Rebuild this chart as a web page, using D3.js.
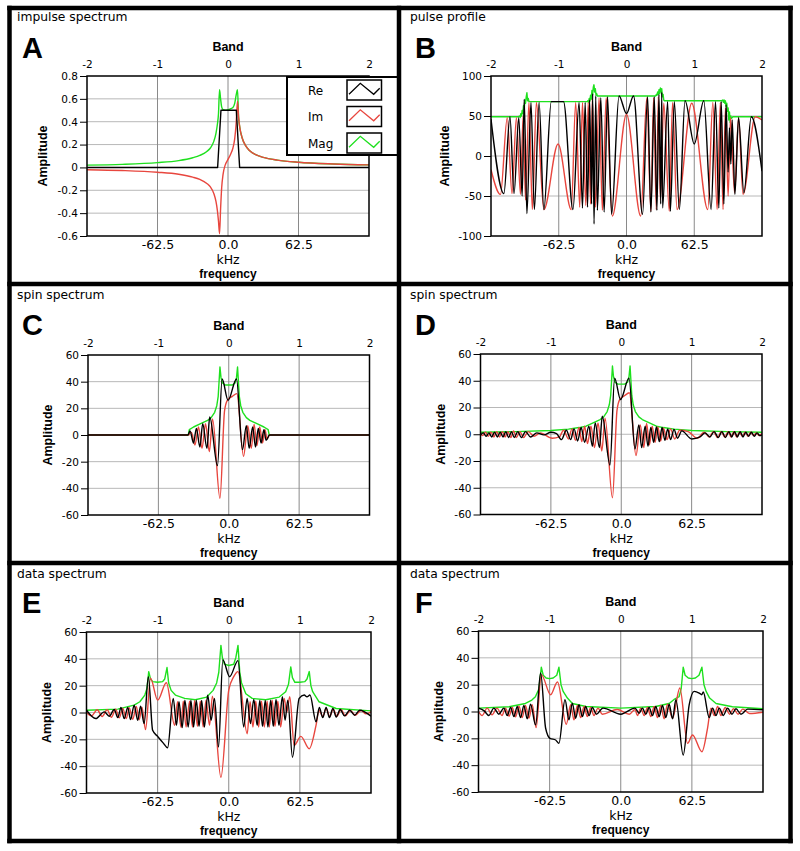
<!DOCTYPE html>
<html>
<head>
<meta charset="utf-8">
<script src="https://cdn.jsdelivr.net/npm/d3@7"></script>
<style>
  body { margin: 0; background: #fff; }
  svg { display: block; }
  .title { font: 12.3px 'DejaVu Sans', sans-serif; }
  .letter { font: bold 29px 'Liberation Sans', Arial, sans-serif; }
  .axis-title { font: bold 12.5px 'Liberation Sans', Arial, sans-serif; }
  .freq { font: bold 12px 'Liberation Sans', Arial, sans-serif; }
  .unit { font: 12.5px 'DejaVu Sans', sans-serif; }
  .axis-top text, .axis-y text { font: 10.5px 'DejaVu Sans', sans-serif; fill: #000; }
  .axis-bottom text { font: 12.5px 'DejaVu Sans', sans-serif; fill: #000; }
  .axis-y line { stroke: #000; }
  .grid-x { stroke: #8a8a8a; stroke-width: 1; }
  .grid-y { stroke: #b8b8b8; stroke-width: 1; }
  .frame { fill: none; stroke: #000; stroke-width: 1.5; }
  .series { fill: none; stroke-width: 1.4; stroke-linejoin: round; }
  .legend-label { font: 12px 'DejaVu Sans', sans-serif; }
</style>
</head>
<body>
<svg id="chart" width="800" height="851"></svg>
<script>
// ---- shared axis values ----
const BAND_TICKS = [-2, -1, 0, 1, 2]
const KHZ_TICKS = [-1, 0, 1]
const KHZ_LABELS = ['-62.5', '0.0', '62.5']
const SERIES_NAMES = ['Re', 'Im', 'Mag']
const SERIES_COLORS = ['#000000', '#e8463e', '#1ee01e']

const A_Y_TICKS = [-0.6, -0.4, -0.2, 0, 0.2, 0.4, 0.6, 0.8]
const B_Y_TICKS = [-100, -50, 0, 50, 100]
const SPIN_Y_TICKS = [-60, -40, -20, 0, 20, 40, 60]

// ---- A: impulse spectrum ----
const A_RE = [[-2, 0], [-0.147, 0], [-0.1, 0.5], [0.118, 0.5], [0.165, 0], [2, 0]]
const A_IM = [[-2, -0.02], [-1.5, -0.027], [-1, -0.042], [-0.7, -0.06], [-0.5, -0.085], [-0.4, -0.105],
  [-0.3, -0.14], [-0.25, -0.17], [-0.2, -0.23], [-0.17, -0.3], [-0.15, -0.38], [-0.135, -0.47],
  [-0.12, -0.58], [-0.105, -0.36], [-0.09, -0.18], [-0.07, -0.06], [-0.04, 0.02], [0, 0.07],
  [0.04, 0.12], [0.07, 0.17], [0.095, 0.25], [0.115, 0.38], [0.135, 0.58], [0.15, 0.44],
  [0.17, 0.34], [0.2, 0.26], [0.25, 0.19], [0.3, 0.15], [0.4, 0.11], [0.5, 0.088], [0.7, 0.064],
  [1, 0.045], [1.5, 0.03], [2, 0.022]]
const A_MAG = [[-2, 0.02], [-1.5, 0.027], [-1, 0.042], [-0.7, 0.06], [-0.5, 0.085], [-0.4, 0.105],
  [-0.3, 0.14], [-0.25, 0.17], [-0.2, 0.23], [-0.17, 0.3], [-0.15, 0.38], [-0.135, 0.47],
  [-0.12, 0.68], [-0.105, 0.6], [-0.09, 0.53], [-0.07, 0.505], [-0.04, 0.5], [0, 0.505],
  [0.04, 0.515], [0.07, 0.525], [0.095, 0.56], [0.115, 0.63], [0.135, 0.68], [0.15, 0.44],
  [0.17, 0.34], [0.2, 0.26], [0.25, 0.19], [0.3, 0.15], [0.4, 0.11], [0.5, 0.088], [0.7, 0.064],
  [1, 0.045], [1.5, 0.03], [2, 0.022]]

// ---- B: pulse profile ----
const B_RE = [[-2, 46], [-1.81, -47], [-1.72, 49], [-1.66, -47], [-1.59, 48], [-1.54, -50], [-1.51, 71],
  [-1.47, -72], [-1.41, 67], [-1.36, -67], [-1.29, 67], [-1.22, -67], [-1.11, 68], [-0.93, 68],
  [-0.79, -67], [-0.7, 67], [-0.65, -65], [-0.61, 67], [-0.575, -64], [-0.545, 70], [-0.515, -60],
  [-0.5, 78], [-0.479, -85], [-0.454, 75], [-0.43, -68], [-0.38, 73], [-0.33, -70], [-0.28, 74],
  [-0.22, -73], [-0.11, 75], [0, 53], [0.104, 75], [0.237, -73], [0.311, 74], [0.36, -70],
  [0.41, 74], [0.449, -68], [0.479, 77], [0.505, -60], [0.52, 80], [0.533, -65], [0.607, 68],
  [0.647, -69], [0.706, 68], [0.78, -67], [0.864, 69], [1.0, 15], [1.141, 69], [1.249, -67],
  [1.314, 68], [1.363, -65], [1.398, 68], [1.437, -60], [1.47, 64], [1.5, -20], [1.52, 35],
  [1.54, -10], [1.56, 45], [1.6, -48], [1.654, 48], [1.733, -46], [1.842, 49], [2, -19]]
const B_IM = [[-2, -17], [-1.86, -48], [-1.76, 48], [-1.69, -47], [-1.625, 48], [-1.565, -48],
  [-1.526, 50], [-1.49, -55], [-1.44, 67], [-1.39, -67], [-1.33, 67], [-1.22, -67], [-1.01, 15],
  [-0.815, -67], [-0.75, 67], [-0.69, -64], [-0.65, 67], [-0.6, -62], [-0.565, 67], [-0.53, -60],
  [-0.505, 72], [-0.46, -64], [-0.405, 73], [-0.356, -68], [-0.3, 73], [-0.21, -75], [0, 52],
  [0.21, -75], [0.3, 73], [0.36, -69], [0.4, 73], [0.44, -67], [0.47, 74], [0.5, -55], [0.55, 66],
  [0.632, -69], [0.68, 67], [0.745, -67], [0.963, 66], [1.2, -67], [1.274, 67], [1.338, -67],
  [1.385, 67], [1.425, -67], [1.46, 60], [1.5, -50], [1.536, 48], [1.595, -46], [1.654, 48],
  [1.72, -48], [1.9, 49], [2, 45]]
const B_MAG = [[-2, 49], [-1.6, 49], [-1.58, 50], [-1.57, 48], [-1.56, 53], [-1.55, 50], [-1.54, 57],
  [-1.53, 53], [-1.52, 63], [-1.51, 58], [-1.5, 70], [-1.49, 66], [-1.48, 74], [-1.47, 79],
  [-1.46, 69], [-1.45, 72], [-1.44, 68], [-0.58, 68], [-0.57, 69], [-0.56, 67], [-0.55, 72],
  [-0.54, 69], [-0.53, 76], [-0.52, 71], [-0.51, 82], [-0.5, 77], [-0.49, 86], [-0.48, 89],
  [-0.47, 80], [-0.46, 84], [-0.45, 76], [-0.44, 78], [-0.43, 75], [0.43, 75], [0.44, 77],
  [0.45, 76], [0.46, 80], [0.47, 77], [0.48, 83], [0.49, 78], [0.5, 85], [0.51, 80], [0.52, 84],
  [0.53, 74], [0.54, 77], [0.55, 70], [0.56, 69], [1.4, 69], [1.42, 70], [1.43, 67], [1.44, 70],
  [1.45, 66], [1.46, 69], [1.47, 62], [1.48, 66], [1.49, 56], [1.5, 60], [1.51, 45], [1.52, 55],
  [1.53, 42], [1.54, 50], [1.55, 47], [1.57, 49], [2, 49]]

// ---- C / D: spin spectrum (shared centre) ----
const SPIN_RE_CORE = [[-0.41, -9], [-0.37, 8.5], [-0.31, -10], [-0.27, 13.5], [-0.16, -23], [-0.094, 42],
  [-0.01, 26], [0.11, 42], [0.195, -11], [0.25, 7], [0.29, -10], [0.34, 6], [0.38, -9], [0.42, 5]]
const SPIN_IM_CORE = [[-0.43, 6], [-0.38, -10], [-0.33, 8.5], [-0.276, -12.5], [-0.23, 12],
  [-0.125, -47.5], [-0.06, 18], [-0.02, 26], [0.05, 29], [0.115, 31], [0.21, -16], [0.27, 7],
  [0.32, -10], [0.36, 8], [0.4, -8], [0.44, 6]]
const SPIN_MAG_CORE = [[-0.5, 6], [-0.4, 8.5], [-0.3, 11], [-0.25, 13], [-0.2, 17], [-0.17, 22],
  [-0.15, 29], [-0.125, 51], [-0.11, 43], [-0.09, 39], [-0.05, 37.5], [0.05, 37.5], [0.09, 39],
  [0.11, 43], [0.125, 51], [0.15, 29], [0.17, 22], [0.2, 17], [0.25, 13], [0.3, 11], [0.4, 8.5],
  [0.5, 6]]

const C_RE_LEFT = [[-2, 0], [-0.58, 0], [-0.55, 3], [-0.5, -6], [-0.46, 5]]
const C_RE_RIGHT = [[0.46, -6], [0.5, 4], [0.53, -4], [0.58, 0], [2, 0]]
const C_IM_LEFT = [[-2, 0], [-0.58, 0], [-0.53, 2], [-0.48, -7.5]]
const C_IM_RIGHT = [[0.48, -6], [0.515, 4], [0.545, -3], [0.58, 0], [2, 0]]
const C_MAG_LEFT = [[-2, 0], [-0.575, 0], [-0.56, 4]]
const C_MAG_RIGHT = [[0.56, 4], [0.575, 0], [2, 0]]

const D_RE_LEFT = [[-2, -0.5], [-1.96, 1], [-1.92, -1.5], [-1.88, 1], [-1.84, -2], [-1.8, 1.5], [-1.76, -2],
  [-1.72, 1.5], [-1.68, -2], [-1.64, 2], [-1.6, -2.5], [-1.56, 2], [-1.52, -2.5], [-1.47, 2],
  [-1.42, -2.5], [-1.36, 2], [-1.29, -2], [-1.2, 1], [-1.1, -0.5], [-1.0, 1.5], [-0.92, 0.5],
  [-0.85, -4], [-0.78, 3], [-0.72, -4], [-0.67, 4], [-0.62, -5], [-0.57, 5], [-0.52, -6], [-0.46, 6]]
const D_RE_RIGHT = [[0.46, -6], [0.5, 5.5], [0.54, -5.5], [0.58, 5], [0.62, -4.5], [0.66, 4], [0.7, -4],
  [0.75, 3.5], [0.8, -3], [0.86, 2.5], [1.0, -3.5], [1.12, -2], [1.19, 1], [1.26, -2], [1.32, 2],
  [1.38, -2.5], [1.43, 2], [1.48, -2.5], [1.53, 2], [1.57, -2], [1.61, 2], [1.65, -2], [1.69, 2],
  [1.73, -2], [1.77, 1.5], [1.81, -1.5], [1.85, 1.5], [1.89, -1.5], [1.93, 1], [1.97, -1], [2, -0.5]]
const D_IM_LEFT = [[-2, 0.5], [-1.97, -1], [-1.93, 1.5], [-1.89, -1.5], [-1.85, 1.5], [-1.81, -2],
  [-1.77, 2], [-1.73, -2], [-1.69, 2], [-1.65, -2], [-1.61, 2], [-1.57, -2.5], [-1.53, 2.5],
  [-1.49, -2.5], [-1.44, 2], [-1.39, -2.5], [-1.32, 2], [-1.24, -1.5], [-1.15, 1], [-0.98, -3],
  [-0.88, -2], [-0.82, 3], [-0.75, -3.5], [-0.7, 4], [-0.65, -4.5], [-0.6, 5], [-0.56, -5.5],
  [-0.52, 6], [-0.48, -7]]
const D_IM_RIGHT = [[0.48, -6], [0.52, 5.5], [0.56, -5], [0.6, 4.5], [0.65, -4], [0.7, 4], [0.76, -3.5],
  [0.83, 3], [0.95, 2], [1.08, -3], [1.18, 1.5], [1.25, -2], [1.31, 2], [1.37, -2.5], [1.42, 2],
  [1.47, -2], [1.52, 2], [1.56, -2], [1.6, 2], [1.64, -2], [1.68, 1.5], [1.72, -1.5], [1.76, 1.5],
  [1.8, -1.5], [1.84, 1.5], [1.88, -1], [1.92, 1], [1.96, -1], [2, 0.5]]
const D_MAG_LEFT = [[-2, 1.5], [-1.5, 2], [-1.0, 2.8], [-0.75, 3.8], [-0.6, 5]]
const D_MAG_RIGHT = [[0.6, 5], [0.75, 3.8], [1.0, 2.8], [1.5, 2], [2, 1.5]]

// ---- E: data spectrum ----
const E_RE = [[-2, 1.7], [-1.87, -4.5], [-1.75, 0.5], [-1.68, -2.8], [-1.61, 2.2], [-1.56, -3.8],
  [-1.515, 3.7], [-1.47, -4.5], [-1.42, 3.7], [-1.38, -5.3], [-1.33, 5.5], [-1.28, -5.8], [-1.24, 4.7],
  [-1.19, -8.3], [-1.13, 26.7], [-1.07, -13.3], [-1.0, -17.8], [-0.92, -22.8], [-0.86, -26.3],
  [-0.78, 10.5], [-0.735, -9.6], [-0.7, 8], [-0.655, -11.3], [-0.617, 9.2], [-0.57, -10.8],
  [-0.532, 9], [-0.494, -10.8], [-0.456, 9.2], [-0.418, -10.3], [-0.381, 9], [-0.343, -10.8],
  [-0.296, 12.9], [-0.248, -5.8], [-0.201, 10.5], [-0.144, -25.8], [-0.083, 39.2], [0.012, 26.7],
  [0.13, 38.7], [0.21, -10.8], [0.258, 10.5], [0.305, -8.3], [0.352, 9.7], [0.4, -9.6], [0.437, 9],
  [0.475, -10.3], [0.513, 9], [0.551, -10.8], [0.589, 9.2], [0.626, -10.3], [0.664, 9.7],
  [0.706, -9.6], [0.754, 11.7], [0.792, -5.8], [0.83, 9.2], [0.896, -33.3], [0.99, 10.5],
  [1.061, 13], [1.1, 11.7], [1.142, 13], [1.227, -7], [1.274, 3.7], [1.322, -3.8], [1.369, 3.7],
  [1.416, -3.8], [1.464, 3], [1.511, -3.3], [1.567, 2.2], [1.628, -2.5], [1.7, 1.7], [1.77, -2],
  [1.841, 1.7], [2, -2.8]]
const E_IM = [[-2, 0], [-1.93, -2.5], [-1.85, 2], [-1.78, -3], [-1.71, 2], [-1.65, -3.5], [-1.59, 2.5],
  [-1.54, -4], [-1.49, 3], [-1.44, -4.5], [-1.4, 3.5], [-1.35, -5], [-1.3, 4.5], [-1.26, -5.5],
  [-1.22, 4], [-1.17, -12.8], [-1.1, 25.5], [-1.0, 9.2], [-0.877, 22.2], [-0.76, -9.6], [-0.72, 8],
  [-0.67, -11.3], [-0.64, 8.5], [-0.6, -10.8], [-0.55, 8.5], [-0.51, -10.8], [-0.48, 9],
  [-0.44, -10.3], [-0.4, 8.5], [-0.36, -10.8], [-0.32, 9.2], [-0.27, -9.6], [-0.23, 12.2],
  [-0.11, -48.3], [0, 16.7], [0.07, 26.7], [0.13, 30.5], [0.26, -15.8], [0.3, 8], [0.34, -10.8],
  [0.38, 8.5], [0.42, -10.8], [0.46, 8.5], [0.5, -10.8], [0.54, 8.5], [0.57, -10.8], [0.61, 9.2],
  [0.65, -10.3], [0.69, 8.5], [0.73, -10.8], [0.78, 10.5], [0.815, 0], [0.858, 11.7], [0.92, -24.5],
  [1.014, -17.8], [1.132, -27], [1.227, -9.6], [1.27, 1.7], [1.32, -2.8], [1.37, 3], [1.42, -3],
  [1.47, 2.5], [1.52, -2.8], [1.58, 2], [1.64, -2.5], [1.71, 1.5], [1.78, -2], [1.86, 1.5],
  [1.93, -1], [2, 0.5]]
const E_MAG = [[-2, 1.7], [-1.56, 2.5], [-1.33, 5.5], [-1.25, 8], [-1.18, 13], [-1.15, 18], [-1.125, 30.5],
  [-1.1, 25], [-1.07, 23], [-1.0, 22.5], [-0.93, 23], [-0.9, 25], [-0.868, 33.5], [-0.845, 22],
  [-0.81, 16.5], [-0.75, 13], [-0.62, 10.5], [-0.47, 9.5], [-0.31, 11.5], [-0.22, 16.5], [-0.17, 22],
  [-0.14, 30], [-0.11, 50], [-0.09, 41], [-0.06, 36], [0.0, 35], [0.07, 36], [0.1, 41], [0.13, 50],
  [0.155, 30], [0.18, 22], [0.24, 14], [0.33, 10.5], [0.52, 9.5], [0.71, 11.5], [0.8, 15.5],
  [0.84, 21], [0.872, 34], [0.895, 26], [0.93, 22.5], [1.0, 22.5], [1.07, 23], [1.1, 25],
  [1.132, 30.5], [1.155, 20], [1.18, 15.5], [1.27, 8], [1.51, 3], [2, 1.2]]

// ---- F: data spectrum ----
const F_RE = [[-2, 2.5], [-1.92, 0.5], [-1.854, -3], [-1.784, 2.5], [-1.714, -2], [-1.643, 2.5],
  [-1.596, -3], [-1.549, 3], [-1.502, -3.75], [-1.455, 3.75], [-1.408, -4.5], [-1.362, 4.5],
  [-1.315, -5.5], [-1.268, 5.5], [-1.197, -10], [-1.127, 28.75], [-1.056, -12.5], [-0.995, -20],
  [-0.915, -21.25], [-0.869, -23.75], [-0.784, 8.75], [-0.728, -6.25], [-0.681, 6.25], [-0.634, -5],
  [-0.587, 5], [-0.54, -3.75], [-0.493, 3.75], [-0.446, -3], [-0.399, 3], [-0.343, -2], [-0.25, 2.5],
  [0, -2], [0.2, 2.5], [0.258, -1.25], [0.305, 2.5], [0.352, -2], [0.399, 3], [0.446, -3],
  [0.493, 3.75], [0.54, -3.75], [0.587, 4.5], [0.634, -4.5], [0.681, 5.5], [0.728, -5.5],
  [0.775, 8.75], [0.878, -32.5], [0.962, 5], [1.033, 15], [1.103, 13.75], [1.14, 12.5], [1.16, 14.5],
  [1.244, -4.5], [1.291, 2.5], [1.338, -3], [1.385, 2.5], [1.441, -3], [1.502, 2.5], [1.563, -2],
  [1.62, 2], [1.69, -2], [1.784, 1.75], [2, 1.25]]
const F_IM = [[-2, 0], [-1.948, -3], [-1.878, 2.5], [-1.81, -2.5], [-1.74, 2.5], [-1.67, -3], [-1.62, 2.5],
  [-1.57, -3.5], [-1.525, 3], [-1.48, -4], [-1.43, 4], [-1.385, -4.5], [-1.34, 4.5], [-1.29, -5],
  [-1.245, 5], [-1.19, -12], [-1.117, 27.5], [-0.986, 12.5], [-0.89, 22], [-0.765, -9.5], [-0.704, 5],
  [-0.657, -6.25], [-0.61, 4.5], [-0.563, -4.5], [-0.516, 3.75], [-0.47, -3.75], [-0.423, 3],
  [-0.376, -3], [-0.32, 2.5], [-0.26, -2], [-0.05, 1.5], [0.12, -2], [0.2, 1.5], [0.235, -3],
  [0.282, 2.5], [0.329, -3], [0.376, 3], [0.423, -3.75], [0.47, 3.75], [0.516, -4.5], [0.563, 4.5],
  [0.61, -5.5], [0.657, 5.5], [0.728, -5], [0.831, 17.5], [0.939, -23.75], [1.009, -17.5],
  [1.141, -30], [1.22, -12.5], [1.268, 2.5], [1.315, -3], [1.362, 3.75], [1.408, -3], [1.47, 3],
  [1.53, -2], [1.585, 2], [1.65, -2], [1.715, 1.75], [1.81, -1.5], [2, -0.5]]
const F_MAG = [[-2, 2.5], [-1.57, 3.5], [-1.34, 6], [-1.25, 8.5], [-1.2, 11], [-1.15, 17], [-1.117, 33],
  [-1.09, 27], [-1.05, 25], [-1.0, 24.5], [-0.95, 25], [-0.9, 27], [-0.869, 33], [-0.84, 20],
  [-0.81, 15], [-0.75, 10], [-0.68, 6], [-0.49, 3.75], [0, 2.5], [0.49, 3.75], [0.68, 6], [0.75, 9],
  [0.82, 11], [0.85, 17], [0.878, 33], [0.905, 27], [0.95, 25], [1.0, 24.5], [1.05, 25], [1.1, 27],
  [1.141, 33], [1.17, 20], [1.2, 15], [1.25, 10], [1.34, 6], [1.57, 3.5], [2, 2]]

// ---- layout ----
const svg = d3.select('#chart')
const COL_LINES = [9.5, 399, 790.5]
const ROW_LINES = [8, 284, 563, 841]
const TITLE_X = [17, 410]
const TITLE_Y = [20.5, 298.5, 577.5]
const LETTER_X = [22, 415]
const LETTER_Y = [58, 335, 613]

const fmtA = (d) => (d === 0 ? '0' : d.toFixed(1))
const fmtInt = (d) => String(d)

const panels = [
  { key: 'A', title: 'impulse spectrum', col: 0, row: 0, box: { l: 87, r: 369, t: 76, b: 236 },
    yDomain: [-0.6, 0.8], yTicks: A_Y_TICKS, yFmt: fmtA, ampOff: 44, legend: true,
    series: [A_RE, A_IM, A_MAG], smooth: [false, true, true] },
  { key: 'B', title: 'pulse profile', col: 1, row: 0, box: { l: 491, r: 762, t: 76, b: 236 },
    yDomain: [-100, 100], yTicks: B_Y_TICKS, yFmt: fmtInt, ampOff: 46,
    series: [B_RE, B_IM, B_MAG], smooth: [true, true, false] },
  { key: 'C', title: 'spin spectrum', col: 0, row: 1, box: { l: 88, r: 369.5, t: 355, b: 515 },
    yDomain: [-60, 60], yTicks: SPIN_Y_TICKS, yFmt: fmtInt, ampOff: 40,
    series: [[...C_RE_LEFT, ...SPIN_RE_CORE, ...C_RE_RIGHT],
      [...C_IM_LEFT, ...SPIN_IM_CORE, ...C_IM_RIGHT],
      [...C_MAG_LEFT, ...SPIN_MAG_CORE, ...C_MAG_RIGHT]], smooth: [true, true, false] },
  { key: 'D', title: 'spin spectrum', col: 1, row: 1, box: { l: 480.5, r: 762, t: 354, b: 514.5 },
    yDomain: [-60, 60], yTicks: SPIN_Y_TICKS, yFmt: fmtInt, ampOff: 40,
    series: [[...D_RE_LEFT, ...SPIN_RE_CORE, ...D_RE_RIGHT],
      [...D_IM_LEFT, ...SPIN_IM_CORE, ...D_IM_RIGHT],
      [...D_MAG_LEFT, ...SPIN_MAG_CORE, ...D_MAG_RIGHT]], smooth: [true, true, false] },
  { key: 'E', title: 'data spectrum', col: 0, row: 2, box: { l: 86.5, r: 371, t: 632, b: 793 },
    yDomain: [-60, 60], yTicks: SPIN_Y_TICKS, yFmt: fmtInt, ampOff: 40,
    series: [E_RE, E_IM, E_MAG], smooth: [true, true, false] },
  { key: 'F', title: 'data spectrum', col: 1, row: 2, box: { l: 478.5, r: 763, t: 631, b: 792 },
    yDomain: [-60, 60], yTicks: SPIN_Y_TICKS, yFmt: fmtInt, ampOff: 40,
    series: [F_RE, F_IM, F_MAG], smooth: [true, true, false] },
]

function drawPanel(p) {
  const { l, r, t, b } = p.box
  const cx = (l + r) / 2
  const g = svg.append('g').attr('class', 'panel panel-' + p.key)

  const x = d3.scaleLinear().domain([-2, 2]).range([l, r])
  const y = d3.scaleLinear().domain(p.yDomain).range([b, t])

  g.append('text').attr('class', 'title').attr('x', TITLE_X[p.col]).attr('y', TITLE_Y[p.row]).text(p.title)
  g.append('text').attr('class', 'letter').attr('x', LETTER_X[p.col]).attr('y', LETTER_Y[p.row]).text(p.key)

  g.append('rect').attr('x', l).attr('y', t).attr('width', r - l).attr('height', b - t).attr('fill', '#fff')

  // grid
  const inner = p.yTicks.slice(1, -1)
  g.append('g').selectAll('line').data(inner).join('line')
    .attr('class', 'grid-y')
    .attr('x1', l).attr('x2', r)
    .attr('y1', (d) => y(d)).attr('y2', (d) => y(d))
  g.append('g').selectAll('line').data(KHZ_TICKS).join('line')
    .attr('class', 'grid-x')
    .attr('x1', (d) => x(d)).attr('x2', (d) => x(d))
    .attr('y1', t).attr('y2', b)

  // series
  const clipId = 'clip-' + p.key
  g.append('clipPath').attr('id', clipId)
    .append('rect').attr('x', l).attr('y', t).attr('width', r - l).attr('height', b - t)
  const lines = g.append('g').attr('clip-path', `url(#${clipId})`)
  const order = [2, 1, 0] // Mag under Im under Re
  order.forEach((i) => {
    const gen = d3.line()
      .x((d) => x(d[0]))
      .y((d) => y(d[1]))
      .curve(p.smooth[i] ? d3.curveMonotoneX : d3.curveLinear)
    lines.append('path')
      .datum(p.series[i])
      .attr('class', 'series')
      .attr('stroke', SERIES_COLORS[i])
      .attr('d', gen)
  })

  g.append('rect').attr('class', 'frame').attr('x', l).attr('y', t).attr('width', r - l).attr('height', b - t)

  // axes
  g.append('g').attr('class', 'axis-top').attr('transform', `translate(0,${t})`)
    .call(d3.axisTop(x).tickValues(BAND_TICKS).tickSize(0).tickPadding(8).tickFormat(fmtInt))
    .call((a) => a.select('.domain').remove())

  g.append('g').attr('class', 'axis-bottom').attr('transform', `translate(0,${b})`)
    .call(d3.axisBottom(x).tickValues(KHZ_TICKS).tickSize(0).tickPadding(4.5).tickFormat((d, i) => KHZ_LABELS[i]))
    .call((a) => a.select('.domain').remove())

  g.append('g').attr('class', 'axis-y').attr('transform', `translate(${l},0)`)
    .call(d3.axisLeft(y).tickValues(p.yTicks).tickSize(7).tickPadding(2).tickFormat(p.yFmt))
    .call((a) => a.select('.domain').remove())

  g.append('text').attr('class', 'axis-title').attr('text-anchor', 'middle')
    .attr('x', cx).attr('y', t - 25.5).text('Band')
  g.append('text').attr('class', 'unit').attr('text-anchor', 'middle')
    .attr('x', cx).attr('y', b + 28.3).text('kHz')
  g.append('text').attr('class', 'freq').attr('text-anchor', 'middle')
    .attr('x', cx).attr('y', b + 42.2).text('frequency')
  g.append('text').attr('class', 'axis-title').attr('text-anchor', 'middle')
    .attr('transform', `translate(${l - p.ampOff},${(t + b) / 2}) rotate(-90)`)
    .attr('dy', '0.35em')
    .text('Amplitude')

  if (p.legend) drawLegend(g)
}

function drawLegend(g) {
  const lg = g.append('g').attr('transform', 'translate(287,77)')
  lg.append('rect').attr('width', 111).attr('height', 78)
    .attr('fill', '#fff').attr('stroke', '#000').attr('stroke-width', 2)
  const zig = d3.line()([[2, 14.3], [13.3, 3.3], [26.7, 14.3], [32.7, 8.3]])
  SERIES_NAMES.forEach((name, i) => {
    const row = lg.append('g').attr('transform', `translate(0,${3 + i * 26.5})`)
    row.append('text').attr('class', 'legend-label').attr('x', 21).attr('y', 14.5).text(name)
    const sw = row.append('g').attr('transform', 'translate(60,0)')
    sw.append('rect').attr('width', 34.5).attr('height', 20)
      .attr('fill', '#fff').attr('stroke', '#000').attr('stroke-width', 1.5)
    sw.append('path').attr('d', zig).attr('fill', 'none')
      .attr('stroke', SERIES_COLORS[i]).attr('stroke-width', 1.3)
  })
}

panels.forEach(drawPanel)

// panel borders
const borders = svg.append('g').attr('stroke', '#000').attr('stroke-width', 4.5).attr('stroke-linecap', 'square')
COL_LINES.forEach((cxl) => borders.append('line')
  .attr('x1', cxl).attr('x2', cxl).attr('y1', ROW_LINES[0]).attr('y2', ROW_LINES[3]))
ROW_LINES.forEach((ry) => borders.append('line')
  .attr('x1', COL_LINES[0]).attr('x2', COL_LINES[2]).attr('y1', ry).attr('y2', ry))
</script>
</body>
</html>
